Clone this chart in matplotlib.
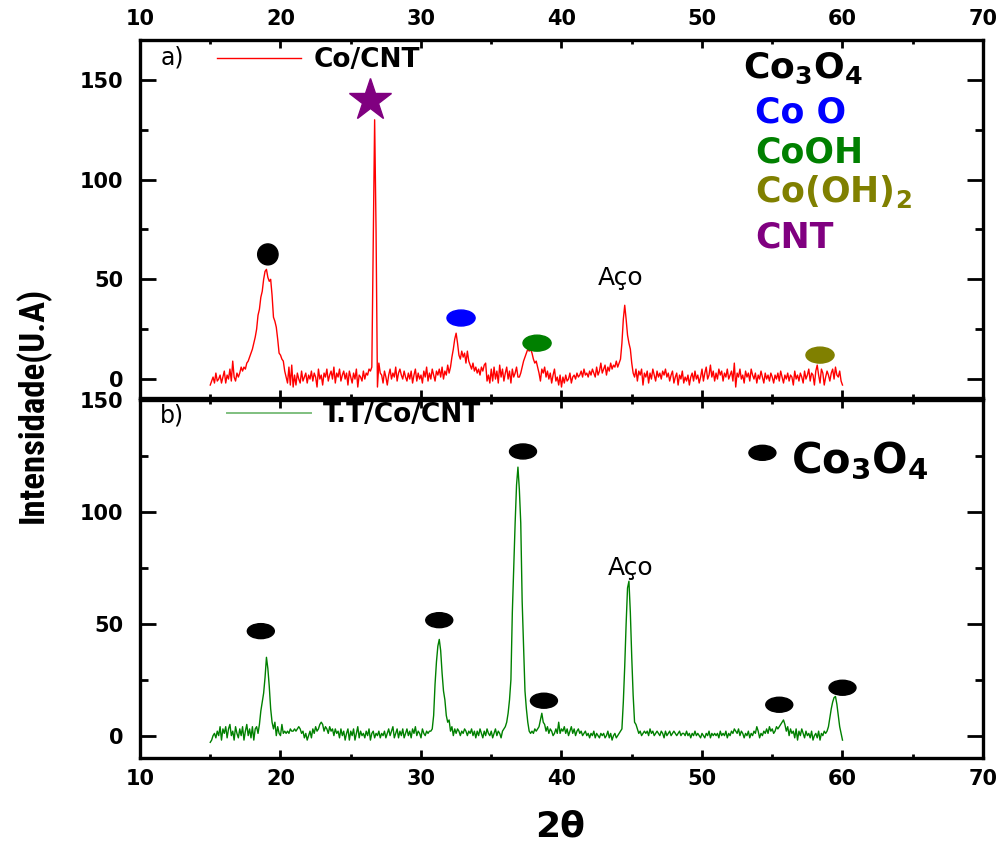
import numpy as np
import matplotlib
matplotlib.use("Agg")
import matplotlib.pyplot as plt
from matplotlib.patches import Ellipse
from matplotlib.lines import Line2D
from matplotlib.ticker import MultipleLocator
from matplotlib.font_manager import FontProperties, fontManager

# ---------------- data (2theta grid 15..60, step 0.1) ----------------
theta_start, theta_end = 15.0, 60.0

intensity_a = [
    -3, -1, 1, -2, 3, -1, 0, 2, -2, 1,      # 15
    4, -2, 2, 0, 5, -1, 9, 1, -1, 3,        # 16
    1, 3, 6, 4, 6, 5, 8, 9, 11, 13,         # 17
    15, 18, 21, 25, 32, 35, 41, 44, 50, 54, # 18
    55, 51, 49, 50, 42, 31, 29, 26, 20, 13, # 19
    12, 10, 9, 4, 1, -2, 6, -3, 7, -4,      # 20
    2, -3, 3, 0, -2, 4, -1, 1, 3, -2,       # 21
    2, 0, 4, -1, 3, 1, -4, 5, 0, 2,         # 22
    -3, 3, 1, 5, -1, 2, 4, 0, 6, -2,        # 23
    3, 1, 5, -1, 2, 4, 0, 3, -3, 4,         # 24
    1, -2, 3, 0, 5, -4, 2, 1, -1, 4,        # 25
    0, 3, 2, 5, 4, 6, 70, 130, 75, -4,      # 26
    8, 3, 2, -2, 4, 1, -3, 2, 5, 0,         # 27
    3, 1, 6, -1, 3, 5, 2, 0, 4, 1,          # 28
    -1, 3, 0, 4, -2, 2, 5, -1, 3, 0,        # 29
    2, -2, 4, 1, 6, -1, 3, 0, 5, 2,         # 30
    -1, 4, 2, 5, 1, 6, 0, 4, 2, 7,          # 31
    3, 6, 11, 15, 20, 23, 18, 12, 10, 14,   # 32
    11, 13, 8, 14, 9, 7, 5, 8, 4, 6,        # 33
    3, 5, 2, 6, 4, 7, 8, -1, 2, -2,         # 34
    5, -1, 6, 0, 4, -2, 7, 1, 5, -1,        # 35
    3, 6, 0, 4, -2, 5, 1, 3, 6, 1,          # 36
    1, 3, 6, 9, 11, 13, 15, 14, 15, 13,     # 37
    10, 8, 9, 6, 3, -1, 5, 3, 6, 1,         # 38
    4, 0, 3, -2, 2, 5, -1, 1, -3, 2,        # 39
    -4, 1, -2, 2, -1, 0, 3, -2, 1, 2,       # 40
    0, 3, 1, 2, 4, 1, 5, 2, 3, 1,           # 41
    4, 2, 5, 3, 1, 6, 2, 4, 8, 3,           # 42
    5, 7, 2, 6, 4, 8, 5, 7, 6, 9,           # 43
    6, 8, 10, 18, 30, 37, 30, 22, 18, 15,   # 44
    8, 3, 1, 5, -1, 4, 2, 5, -3, 3,         # 45
    1, 4, -2, 3, 0, 5, 2, -1, 4, 1,         # 46
    3, 0, 4, 2, 5, 1, 3, -1, 2, 4,          # 47
    -2, 1, 3, -3, 2, 0, 4, -2, 1, -1,       # 48
    2, -3, 1, 3, -1, 4, 0, 2, -2, 1,        # 49
    5, -1, 3, 6, 0, 2, 7, 1, 4, -1,         # 50
    3, 0, 5, 2, 4, -1, 3, 1, 5, 0,          # 51
    2, 4, -1, 8, -4, 3, 1, 5, 0, 2,         # 52
    -2, 4, 1, 3, -1, 5, 2, 0, 3, -2,        # 53
    2, 0, 4, 1, -2, 3, 0, 2, -1, 3,         # 54
    1, -2, 2, 0, 3, -1, 4, 1, -2, 2,        # 55
    0, 3, -1, 2, 1, -3, 4, 0, 2, -1,        # 56
    3, 1, -2, 4, 0, 2, 5, -1, 3, 2,         # 57
    -3, 4, 7, 2, -2, 5, 3, -3, 1, 4,        # 58
    2, -1, 3, 5, 0, 6, 2, 1, 4, -1,         # 59
    -3,                                     # 60
]

intensity_b = [
    -3, -2, 0, 1, -1, 2, 0, 4, -2, 3,       # 15
    1, 4, -1, 3, 5, 0, 2, -2, 4, 1,         # 16
    -1, 3, 0, 4, -2, 2, 5, 0, 3, -1,        # 17
    4, -2, 3, 4, 1, 5, 11, 15, 19, 26,      # 18
    35, 30, 22, 12, 6, 3, 6, 0, 4, 1,       # 19
    0, 5, 1, 2, 1, 2, 1, 3, 2, 2,           # 20
    3, 2, 3, 4, 3, 1, 2, -1, 1, -2,         # 21
    0, 2, -1, 3, 1, 4, 2, 3, 5, 6,          # 22
    5, 2, 4, 3, 1, 4, 2, 3, 0, 3,           # 23
    1, 2, -1, 3, 0, 2, -2, 1, 3, -2,        # 24
    2, 0, 3, -2, 1, 4, -1, 2, 0, 1,         # 25
    -1, 2, 0, 3, -2, 1, 2, -1, 1, 0,        # 26
    2, -1, 1, 0, 2, -1, 1, 3, 0, 2,         # 27
    4, -1, 1, 3, -1, 2, 0, 3, -1, 1,        # 28
    3, 0, 2, -1, 3, 1, 4, 0, 2, 1,          # 29
    -1, 3, 1, 0, 2, 1, 2, 2, 3, 9,          # 30
    23, 33, 40, 43, 38, 28, 20, 16, 9, 6,   # 31
    7, 2, 4, 0, 3, 1, 3, 2, 0, 2,           # 32
    1, 3, 2, 0, 2, 1, 3, 0, 2, -1,          # 33
    2, 0, 3, 1, -1, 2, 0, 3, 1, 0,          # 34
    2, -1, 1, 3, 0, 2, 1, -1, 2, 3,         # 35
    4, 6, 10, 16, 25, 55, 75, 95, 112, 120, # 36
    110, 95, 60, 40, 20, 12, 6, 2, 1, 2,    # 37
    1, 3, 2, 3, 4, 7, 10, 6, 5, 2,          # 38
    4, 1, 3, 2, 0, 1, 3, 1, 6, 1,           # 39
    3, 2, 4, 1, 3, 0, 2, 4, 1, 3,           # 40
    0, 2, 3, 1, 2, 0, 1, 2, 0, 1,           # 41
    -1, 1, 0, 2, -1, 1, 0, -1, 1, 0,        # 42
    1, -1, 0, 2, -1, 1, -2, 0, 1, -1,       # 43
    0, 1, 2, 3, 15, 31, 50, 66, 69, 55,     # 44
    35, 18, 6, 5, 3, 1, 2, 0, 1, 2,         # 45
    1, 2, 0, 3, 1, 2, 0, 1, 2, 1,           # 46
    0, 2, 1, -1, 2, 0, 1, 2, 0, 1,          # 47
    2, 1, 0, 1, 2, 0, 1, 1, 0, 2,           # 48
    0, 1, -1, 1, 0, 2, 0, 1, 0, -1,         # 49
    1, 0, -1, 1, 0, 2, -1, 1, 0, 1,         # 50
    0, 1, -1, 2, 0, 1, 0, 2, -1, 1,         # 51
    0, 2, 1, 3, 2, 1, 3, 0, 2, 1,           # 52
    -1, 1, 0, 2, -1, 1, 0, 2, 1, 4,         # 53
    2, -1, 1, 0, 2, 1, 3, 1, 4, 2,          # 54
    3, 1, 2, 4, 3, 4, 5, 6, 7, 5,           # 55
    2, 4, 0, 3, 1, 2, -1, 3, -2, 2,         # 56
    0, 3, 1, -1, 2, 0, 1, -1, 2, -2,        # 57
    0, 1, -1, 2, -2, 1, 0, 2, 1, 2,         # 58
    4, 8, 12, 15, 17, 17.5, 14, 9, 4, 1,    # 59
    -2,                                     # 60
]

# phase markers (x = 2theta, y = intensity)
marks_a_x = [19.1, 32.85, 38.26, 58.4]
marks_a_y = [62.5, 30.6, 18.0, 12.0]
cnt_star_x = [26.4]
cnt_star_y = [140]
marks_b_x = [18.6, 31.3, 37.26, 38.75, 55.5, 60.0]
marks_b_y = [46.7, 51.6, 127.0, 15.6, 13.8, 21.4]

series_a_label = "Co/CNT"
series_b_label = "T.T/Co/CNT"
phase_labels = ["Co O", "CoOH", "Co(OH)$_\\mathbf{2}$", "CNT"]
x_ticks = [10, 20, 30, 40, 50, 60, 70]
y_ticks = [0, 50, 100, 150]

# ---------------- styling ----------------
plt.rcParams["mathtext.fontset"] = "dejavusans"
plt.rcParams["mathtext.default"] = "bf"

# pick a condensed bold face for the y label if one is installed
names = {f.name for f in fontManager.ttflist}
ylab_family = "DejaVu Sans"
ylab_stretch = "normal"
for cand in ["Liberation Sans Narrow", "Arial Narrow", "Roboto Condensed",
             "Open Sans Condensed", "DejaVu Sans Condensed"]:
    if cand in names:
        ylab_family = cand
        break
else:
    if any(f.name == "DejaVu Sans" and f.stretch in ("condensed", 300, "semi-condensed")
           for f in fontManager.ttflist):
        ylab_stretch = "condensed"

W, H = 1003, 846
fig = plt.figure(figsize=(W / 100, H / 100), dpi=100)
left, right = 140 / W, 983 / W
ax1 = fig.add_axes([left, 1 - 398 / H, right - left, 358 / H])
ax2 = fig.add_axes([left, 1 - 758 / H, right - left, 358 / H])

theta_a = np.linspace(theta_start, theta_end, len(intensity_a))
theta_b = np.linspace(theta_start, theta_end, len(intensity_b))

RED = "#ff0000"
GREEN = "#008000"
ax1.plot(theta_a, intensity_a, color=RED, lw=1.0)
ax2.plot(theta_b, intensity_b, color=GREEN, lw=1.0)

ax1.set_xlim(10, 70)
ax2.set_xlim(10, 70)
ax1.set_ylim(-9.5, 170)
ax2.set_ylim(-10, 150)

tick_font = dict(family="DejaVu Sans", weight="bold", size=15)
for ax in (ax1, ax2):
    ax.set_xticks(x_ticks)
    ax.set_yticks(y_ticks)
    ax.xaxis.set_minor_locator(MultipleLocator(5))
    ax.yaxis.set_minor_locator(MultipleLocator(25))
    for s in ax.spines.values():
        s.set_linewidth(2.4)
    ax.tick_params(axis="y", which="major", direction="in", length=11.5, width=2.0,
                   left=True, right=True, pad=12)
    ax.tick_params(axis="y", which="minor", direction="in", length=5.8, width=2.0,
                   left=True, right=True)
    ax.tick_params(axis="x", which="major", direction="in", length=6, width=2.0,
                   top=True, bottom=True, pad=8)
    ax.tick_params(axis="x", which="minor", direction="in", length=3, width=2.0,
                   top=True, bottom=True)

ax1.tick_params(axis="x", labeltop=True, labelbottom=False)
ax2.tick_params(axis="x", labeltop=False, labelbottom=True)
for ax in (ax1, ax2):
    for lab in ax.get_xticklabels() + ax.get_yticklabels():
        lab.set_fontproperties(FontProperties(**tick_font))

# markers panel a
ell_colors_a = ["black", "#0000ff", GREEN, "#808000"]
ell_w_a = [1.45, 2.0, 2.0, 2.0]
ell_h_a = [10.5, 8.0, 8.0, 8.0]
for x, y, c, w, h in zip(marks_a_x, marks_a_y, ell_colors_a, ell_w_a, ell_h_a):
    ax1.add_patch(Ellipse((x, y), w, h, color=c, zorder=3))
ax1.plot(cnt_star_x, cnt_star_y, marker="*", ms=32, color="#800080", ls="none", zorder=3)

for x, y in zip(marks_b_x, marks_b_y):
    ax2.add_patch(Ellipse((x, y), 1.92, 6.7, color="black", zorder=3))
# legend ellipse in panel b
ax2.add_patch(Ellipse((54.3, 126.4), 1.92, 6.7, color="black", zorder=3))

# texts panel a
ax1.text(12.3, 161, "a)", fontsize=17, ha="center", va="center", family="DejaVu Sans")
ax1.text(44.2, 50.7, "Aço", fontsize=18, ha="center", va="center", family="DejaVu Sans")
ax1.text(52.9, 156, r"Co$_\mathbf{3}$O$_\mathbf{4}$", fontsize=26, weight="bold",
         ha="left", va="center", color="black")
phase_colors = ["#0000ff", GREEN, "#808000", "#800080"]
phase_y = [133.5, 113.4, 93.8, 71.0]
for t, c, y in zip(phase_labels, phase_colors, phase_y):
    ax1.text(53.8, y, t, fontsize=25, weight="bold", ha="left", va="center", color=c)

# texts panel b
ax2.text(12.3, 143, "b)", fontsize=17, ha="center", va="center", family="DejaVu Sans")
ax2.text(44.9, 74.8, "Aço", fontsize=18, ha="center", va="center", family="DejaVu Sans")
ax2.text(56.3, 122.9, r"Co$_\mathbf{3}$O$_\mathbf{4}$", fontsize=30, weight="bold",
         ha="left", va="center", color="black")

# legends
leg_font = dict(family="DejaVu Sans", weight="bold", size=19)
h1 = Line2D([], [], color=RED, lw=1.0)
ax1.legend([h1], [series_a_label], loc="center left",
           bbox_to_anchor=((217 - 140) / 843, (398 - 60) / 358),
           frameon=False, borderpad=0, borderaxespad=0, handlelength=3.2,
           handletextpad=0.45, prop=leg_font)
h2 = Line2D([], [], color="#7fbf7f", lw=1.4)
ax2.legend([h2], [series_b_label], loc="center left",
           bbox_to_anchor=((227 - 140) / 843, (758 - 415) / 358),
           frameon=False, borderpad=0, borderaxespad=0, handlelength=3.2,
           handletextpad=0.45, prop=leg_font)

# axis labels
fig.text(33 / W, 1 - 405 / H, "Intensidade(U.A)", rotation=90, ha="center", va="center",
         family=ylab_family, stretch=ylab_stretch, weight="bold", fontsize=25)
fig.text(560 / W, 1 - 826 / H, "2θ", ha="center", va="center",
         family="DejaVu Sans", weight="bold", fontsize=26)

fig.savefig("out.png", dpi=100)
